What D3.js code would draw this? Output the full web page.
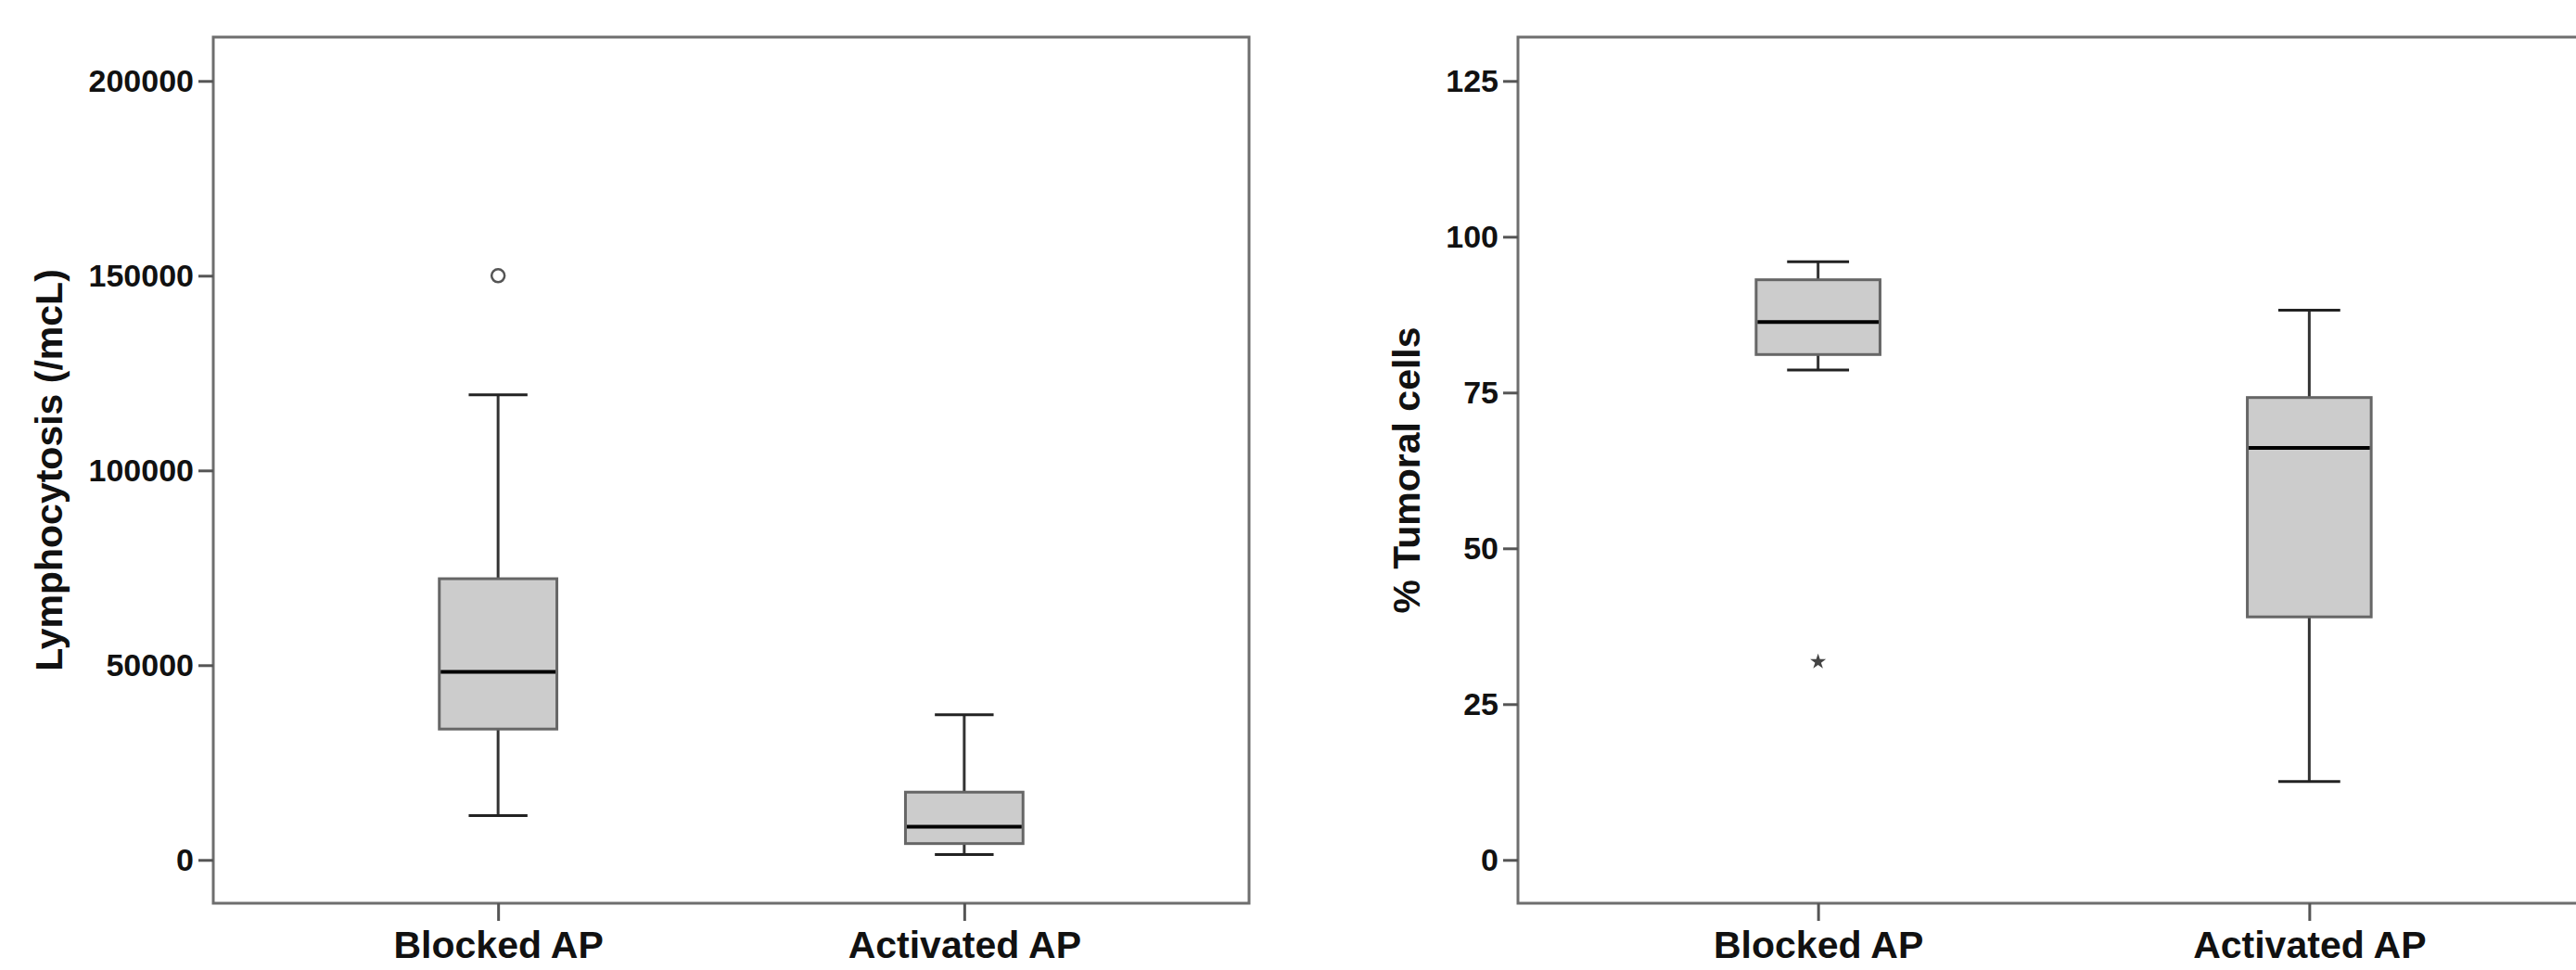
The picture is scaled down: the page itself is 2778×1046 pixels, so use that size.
<!doctype html>
<html>
<head>
<meta charset="UTF-8">
<title>Boxplots</title>
<script src="https://d3js.org/d3.v7.min.js"></script>
<style>
  body { margin: 0; background: #fff; }
  svg text { font-family: "Liberation Sans", Arial, sans-serif; font-weight: bold; fill: #111; }
</style>
</head>
<body>
<div id="chart"></div>
<script>
// categories
var groups = ["Blocked AP", "Activated AP"];

// left panel : lymphocytosis (/mcL)
var lymphoTicks = [0, 50000, 100000, 150000, 200000];
var lymphoLow = [11400, 1400];
var lymphoQ1 = [33600, 4200];
var lymphoMedian = [48300, 8500];
var lymphoQ3 = [72200, 17400];
var lymphoHigh = [119400, 37300];
var lymphoOutliers = [{group: "Blocked AP", value: 150000, kind: "circle"}];

// right panel : % tumoral cells
var tumorTicks = [0, 25, 50, 75, 100, 125];
var tumorLow = [78.6, 12.6];
var tumorQ1 = [81.1, 39.0];
var tumorMedian = [86.3, 66.1];
var tumorQ3 = [93.1, 74.2];
var tumorHigh = [96.0, 88.2];
var tumorOutliers = [{group: "Blocked AP", value: 31.8, kind: "star"}];

var svg = d3.select("#chart").append("svg")
	.attr("width", 2778)
	.attr("height", 1046);

function boxplot(opt) {
	var left = opt.left, right = opt.right, top = 40, bottom = 974;
	var width = right - left;

	var x = d3.scalePoint()
		.domain(groups)
		.range([left, right])
		.padding(0.611);

	var y = d3.scaleLinear()
		.domain(opt.domain)
		.range([bottom, top]);

	var boxW = width * 0.1135, capW = boxW * 0.5;

	var stats = groups.map((g, i) => ({
		group: g, low: opt.low[i], q1: opt.q1[i], med: opt.median[i], q3: opt.q3[i], high: opt.high[i]
	}));

	// frame
	svg.append("rect")
		.attr("x", left).attr("y", top)
		.attr("width", width).attr("height", bottom - top)
		.attr("fill", "none")
		.attr("stroke", "#6e6e6e")
		.attr("stroke-width", 3);

	// y axis
	var ya = svg.append("g")
		.attr("transform", "translate(" + left + ",0)")
		.call(d3.axisLeft(y).tickValues(opt.ticks).tickFormat(d3.format("d"))
			.tickSize(16).tickSizeOuter(0).tickPadding(5));
	ya.select(".domain").remove();
	ya.selectAll("line").attr("stroke", "#555").attr("stroke-width", 3);
	ya.selectAll("text").style("font-size", "34px").attr("fill", "#111");

	// x axis
	var xa = svg.append("g")
		.attr("transform", "translate(0," + bottom + ")")
		.call(d3.axisBottom(x).tickSize(19).tickSizeOuter(0).tickPadding(4));
	xa.select(".domain").remove();
	xa.selectAll("line").attr("stroke", "#555").attr("stroke-width", 3);
	xa.selectAll("text").style("font-size", "41px").attr("dy", "0").attr("y", 59).attr("fill", "#111");

	// y title
	svg.append("text")
		.attr("transform", "translate(" + opt.titleX + "," + ((top + bottom) / 2) + ") rotate(-90)")
		.attr("text-anchor", "middle")
		.style("font-size", "41px")
		.text(opt.title);

	var g = svg.append("g");

	// whiskers
	g.selectAll(".whisker")
		.data(stats)
		.enter()
		.append("line")
			.attr("x1", d => x(d.group)).attr("x2", d => x(d.group))
			.attr("y1", d => y(d.low)).attr("y2", d => y(d.high))
			.attr("stroke", "#333").attr("stroke-width", 3);

	g.selectAll(".cap")
		.data(stats.flatMap(d => [{group: d.group, v: d.low}, {group: d.group, v: d.high}]))
		.enter()
		.append("line")
			.attr("x1", d => x(d.group) - capW / 2).attr("x2", d => x(d.group) + capW / 2)
			.attr("y1", d => y(d.v)).attr("y2", d => y(d.v))
			.attr("stroke", "#222").attr("stroke-width", 3);

	// boxes
	g.selectAll(".box")
		.data(stats)
		.enter()
		.append("rect")
			.attr("x", d => x(d.group) - boxW / 2)
			.attr("width", boxW)
			.attr("y", d => y(d.q3))
			.attr("height", d => y(d.q1) - y(d.q3))
			.attr("fill", "#cccccc")
			.attr("stroke", "#666")
			.attr("stroke-width", 3);

	// medians
	g.selectAll(".median")
		.data(stats)
		.enter()
		.append("line")
			.attr("x1", d => x(d.group) - boxW / 2 + 1.5).attr("x2", d => x(d.group) + boxW / 2 - 1.5)
			.attr("y1", d => y(d.med)).attr("y2", d => y(d.med))
			.attr("stroke", "#000").attr("stroke-width", 4);

	// outliers
	opt.outliers.forEach(o => {
		if (o.kind == "circle") {
			g.append("circle")
				.attr("cx", x(o.group)).attr("cy", y(o.value))
				.attr("r", 7)
				.attr("fill", "none")
				.attr("stroke", "#555")
				.attr("stroke-width", 2.5);
		} else {
			g.append("path")
				.attr("transform", "translate(" + x(o.group) + "," + y(o.value) + ")")
				.attr("d", d3.symbol().type(d3.symbolStar).size(90)())
				.attr("fill", "#444");
		}
	});
}

boxplot({
	left: 230, right: 1347,
	domain: [-11119, 211262],
	ticks: lymphoTicks,
	low: lymphoLow, q1: lymphoQ1, median: lymphoMedian, q3: lymphoQ3, high: lymphoHigh,
	outliers: lymphoOutliers,
	title: "Lymphocytosis (/mcL)",
	titleX: 67
});

boxplot({
	left: 1637, right: 2814,
	domain: [-6.95, 132.04],
	ticks: tumorTicks,
	low: tumorLow, q1: tumorQ1, median: tumorMedian, q3: tumorQ3, high: tumorHigh,
	outliers: tumorOutliers,
	title: "% Tumoral cells",
	titleX: 1531
});
</script>
</body>
</html>
